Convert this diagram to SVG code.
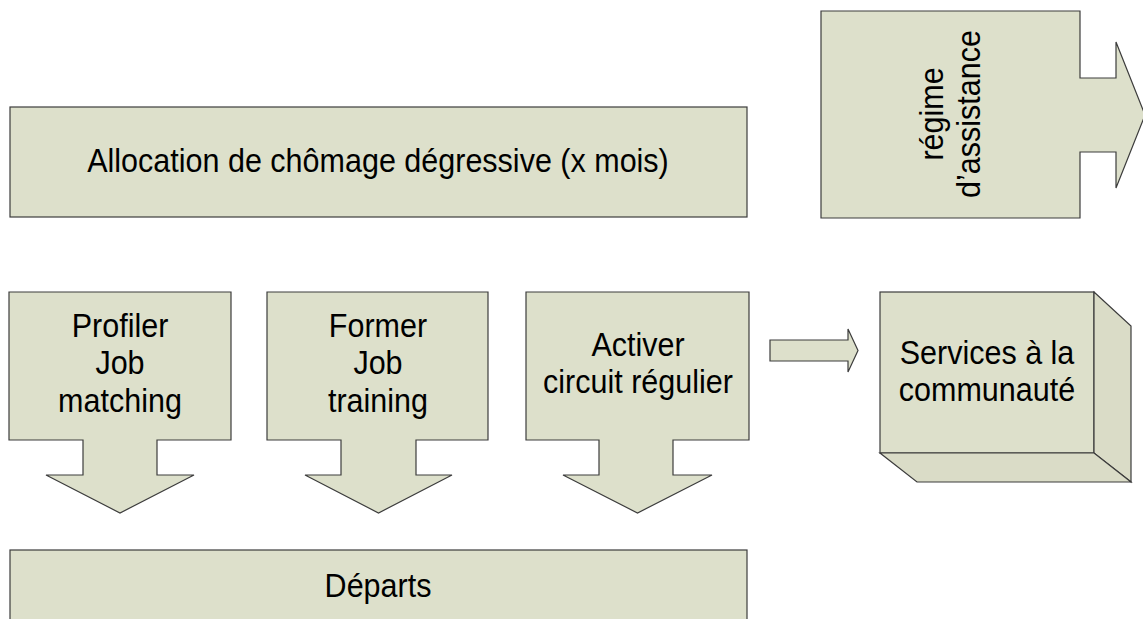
<svg xmlns="http://www.w3.org/2000/svg" width="1143" height="619" viewBox="0 0 1143 619">
<style>
.s{fill:#dde0cb;stroke:#3c3c3c;stroke-width:1.2}
.d{fill:#dadcc7;stroke:#3c3c3c;stroke-width:1.2}
.t{font-family:"Liberation Sans",Arial,sans-serif;font-size:33px;fill:#000;text-anchor:middle}
</style>
<rect width="1143" height="619" fill="#fff"/>
<g id="allocation">
<rect class="s" x="10" y="107" width="737" height="110"/>
<g transform="translate(378,0) scale(0.925,1)"><text class="t" x="0" y="172">Allocation de chômage dégressive (x mois)</text></g>
</g>
<g id="regime">
<path class="s" d="M821,11 H1080 V78 H1116 V42 L1145,115 L1116,188 V152 H1080 V218 H821 Z"/>
<text class="t" transform="translate(943,114) rotate(-90) scale(0.925,1)"><tspan x="0" y="0">régime</tspan><tspan x="0" y="37.5">d’assistance</tspan></text>
</g>
<g id="profiler">
<path class="s" d="M9,292 H231 V440 H157 V475 H194 L120,513 L46,475 H83 V440 H9 Z"/>
<g transform="translate(120,0) scale(0.925,1)"><text class="t"><tspan x="0" y="337">Profiler</tspan><tspan x="0" y="374.5">Job</tspan><tspan x="0" y="412">matching</tspan></text></g>
</g>
<g id="former">
<path class="s" d="M267,292 H488 V440 H416 V475 H452 L378.5,513 L305,475 H341 V440 H267 Z"/>
<g transform="translate(378,0) scale(0.925,1)"><text class="t"><tspan x="0" y="337">Former</tspan><tspan x="0" y="374.5">Job</tspan><tspan x="0" y="412">training</tspan></text></g>
</g>
<g id="activer">
<path class="s" d="M526,292 H749 V440 H673 V475 H712 L637.5,513 L563,475 H599 V440 H526 Z"/>
<g transform="translate(638,0) scale(0.925,1)"><text class="t"><tspan x="0" y="356">Activer</tspan><tspan x="0" y="393">circuit régulier</tspan></text></g>
</g>
<g id="services">
<rect class="s" x="880" y="292" width="214" height="161"/>
<path class="d" d="M1094,292 L1131,326 V482 L1094,453 Z"/>
<path class="d" d="M880,453 H1094 L1131,482 H917 Z"/>
<g transform="translate(987,0) scale(0.925,1)"><text class="t"><tspan x="0" y="364">Services à la</tspan><tspan x="0" y="401.5">communauté</tspan></text></g>
</g>
<g id="departs">
<rect class="s" x="10" y="550" width="737" height="80"/>
<g transform="translate(378,0) scale(0.925,1)"><text class="t" x="0" y="597">Départs</text></g>
</g>
<g id="connectors">
<path class="s" d="M770,340 H848 V329 L858,350.5 L848,372 V361 H770 Z"/>
</g>
</svg>
